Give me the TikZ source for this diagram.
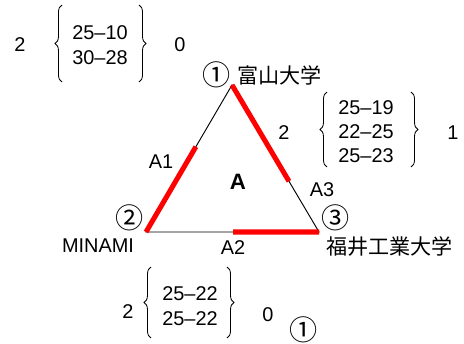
\documentclass[tikz,border=0pt]{standalone}
\usepackage{fontspec}
\setmainfont{Liberation Sans}
\newfontfamily\jpfont{Noto Sans CJK JP}
\usetikzlibrary{calc,decorations.pathreplacing}

\begin{document}
\begin{tikzpicture}[x=0.03cm,y=-0.03cm,
        every node/.style={font=\fontsize{17}{21}\selectfont, inner sep=0pt},
        jp/.style={font=\fontsize{18}{21}\selectfont\jpfont},
        circ/.style={font=\fontsize{24}{24}\selectfont\jpfont},
        win/.style={line width=4.3pt, red},
        brc/.style={decorate, decoration={brace, amplitude=6pt}, line width=0.7pt}]
    \useasboundingbox (0,0) rectangle (464,344);

    %mark vertices of the triangle
        \coordinate (T) at (232,85);
        \coordinate (L) at (146,232);
        \coordinate (R) at (319,232);

    %draw triangle and the won sides
        \draw[line width=0.8pt] (T) -- (L) -- (R) -- cycle;
        \draw[win] (T) -- ($(T)!0.655!(R)$);
        \draw[win] (L) -- ($(L)!0.58!(T)$);
        \draw[win] ($(L)!0.503!(R)$) -- (R);

    %teams
        \node[circ] (n1) at (217,75) {①};
        \node[jp, anchor=west] (toyama) at (237,75) {富山大学};
        \node[circ] (n2) at (130,218) {②};
        \node (minami) at (98,246) {MINAMI};
        \node[circ] (n3) at (336,218) {③};
        \node[jp, anchor=west] (fukui) at (326,247) {福井工業大学};

    %sides and group
        \node (a1) at (161,162) {A1};
        \node (a2) at (233,248) {A2};
        \node (a3) at (322,190) {A3};
        \node[font=\fontsize{19}{21}\selectfont\bfseries] (grp) at (238,182) {A};

    %match 1-2
        \node (p12a) at (20,45) {2};
        \node[align=center] (s12) at (100,45) {25–10\\30–28};
        \node (p12b) at (180,45) {0};
        \draw[brc] (62,82) -- (62,5);
        \draw[brc] (139,5) -- (139,82);

    %match 1-3
        \node (p13a) at (284,133) {2};
        \node[align=center, font=\fontsize{17}{20.4}\selectfont] (s13) at (366,132) {25–19\\22–25\\25–23};
        \node (p13b) at (453,133) {1};
        \draw[brc] (327,167) -- (327,92);
        \draw[brc] (411,92) -- (411,167);

    %match 2-3
        \node (p23a) at (128,312) {2};
        \node[align=center] (s23) at (190,306) {25–22\\25–22};
        \node (p23b) at (268,315) {0};
        \draw[brc] (151,338) -- (151,267);
        \draw[brc] (227,267) -- (227,338);
        \node[circ] (n1b) at (304,330) {①};

\end{tikzpicture}
\end{document}
